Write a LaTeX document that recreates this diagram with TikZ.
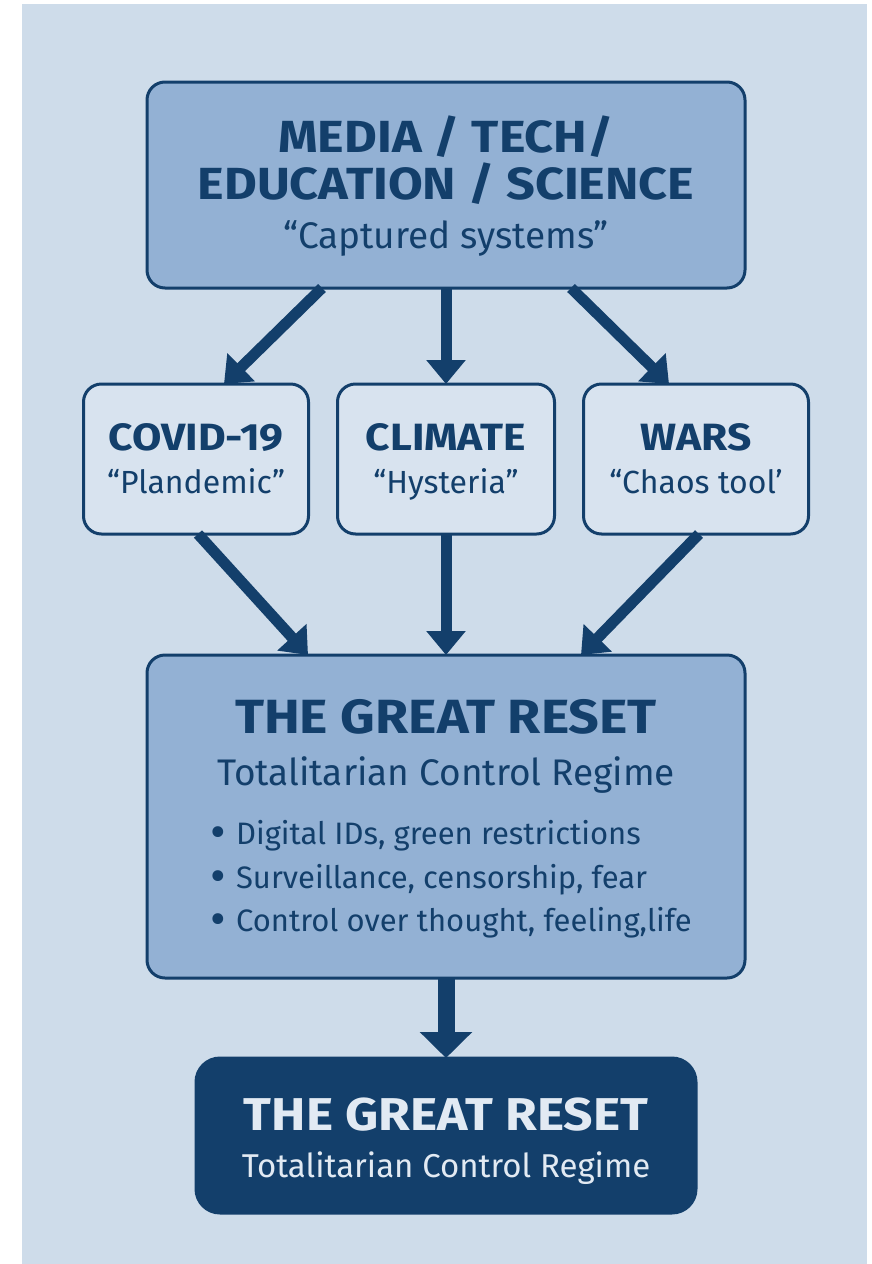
\documentclass[tikz,border=0pt]{standalone}
\usepackage{fontspec}
\setmainfont{Fira Sans}
\newfontfamily\headfont{Fira Sans}[FakeStretch=1.12]
\usepackage{tikz}
\usetikzlibrary{positioning,arrows.meta}
\definecolor{bgcol}{HTML}{CEDCEA}
\definecolor{boxcol}{HTML}{93B1D4}
\definecolor{midcol}{HTML}{D8E3EF}
\definecolor{inkcol}{HTML}{133F6B}
\definecolor{paletext}{HTML}{E2EAF3}

\begin{document}
\begin{tikzpicture}[x=1pt,y=-1pt,
  box/.style={rectangle,rounded corners=18pt,draw=inkcol,line width=3pt,inner sep=0pt,outer sep=0pt},
  bigbox/.style={box,fill=boxcol,minimum width=598pt},
  smallbox/.style={box,fill=midcol,minimum height=150pt},
  endbox/.style={box,fill=inkcol,rounded corners=24pt,minimum width=500pt,minimum height=155pt},
  headtext/.style={anchor=base,text=inkcol,font=\headfont\bfseries\fontsize{#1}{#1}\selectfont},
  subtext/.style={anchor=base,text=inkcol,font=\fontsize{#1}{#1}\selectfont},
  flow/.style={draw=inkcol,line width=11pt,-{Triangle[width=38pt,length=24pt]}},
  bigflow/.style={draw=inkcol,line width=17pt,-{Triangle[width=51pt,length=26pt]}}]
\useasboundingbox (0,0) rectangle (871,1264);
\fill[white] (0,0) rectangle (871,1264);
\fill[bgcol] (22,4) rectangle (867,1264);

% boxes
\node[bigbox,minimum height=206pt] (sys) at (446,185) {};
\node[smallbox,minimum width=217pt] (climate) [below=96pt of sys] {};
\node[smallbox,minimum width=225pt] (covid) [left=29pt of climate] {};
\node[smallbox,minimum width=225pt] (wars) [right=29pt of climate] {};
\node[bigbox,minimum height=323pt] (reset) [below=121pt of climate] {};
\node[endbox] (final) [below=80pt of reset] {};

% texts
\node[headtext=45] at ([yshift=-70pt]sys.north) {MEDIA / TECH/};
\node[headtext=45] at ([yshift=-117pt]sys.north) {EDUCATION / SCIENCE};
\node[subtext=37] at ([yshift=-166pt]sys.north) {“Captured systems”};

\node[headtext=38] at ([yshift=-66pt]covid.north) {COVID-19};
\node[subtext=32] at ([yshift=-109pt]covid.north) {“Plandemic”};
\node[headtext=38] at ([yshift=-66pt]climate.north) {CLIMATE};
\node[subtext=32] at ([yshift=-109pt]climate.north) {“Hysteria”};
\node[headtext=38] at ([yshift=-66pt]wars.north) {WARS};
\node[subtext=32] at ([yshift=-109pt]wars.north) {“Chaos tool’};

\node[headtext=48] at ([yshift=-78pt]reset.north) {THE GREAT RESET};
\node[subtext=37] at ([yshift=-130pt]reset.north) {Totalitarian Control Regime};
\foreach \txt [count=\i] in {{Digital IDs, green restrictions},{Surveillance, censorship, fear},{Control over thought, feeling,life}}
  \node[subtext=31,anchor=base west] at ([xshift=60pt,yshift={-146pt-43.5pt*\i}]reset.north west)
    {\raisebox{-4pt}{\fontsize{48}{48}\selectfont•}\hspace{10pt}\txt};

\node[headtext=46,text=paletext] at ([yshift=-72pt]final.north) {THE GREAT RESET};
\node[subtext=33,text=paletext] at ([yshift=-119pt]final.north) {Totalitarian Control Regime};

% arrows
\draw[flow] ([xshift=-124pt]sys.south) -- ([xshift=28pt]covid.north);
\draw[flow] (sys.south) -- (climate.north);
\draw[flow] ([xshift=125pt]sys.south) -- ([xshift=-27pt]wars.north);
\draw[flow] ([xshift=2pt]covid.south) -- ([xshift=-138pt]reset.north);
\draw[flow] (climate.south) -- (reset.north);
\draw[flow] ([xshift=3pt]wars.south) -- ([xshift=135pt]reset.north);
\draw[bigflow] (reset.south) -- (final.north);
\end{tikzpicture}
\end{document}
